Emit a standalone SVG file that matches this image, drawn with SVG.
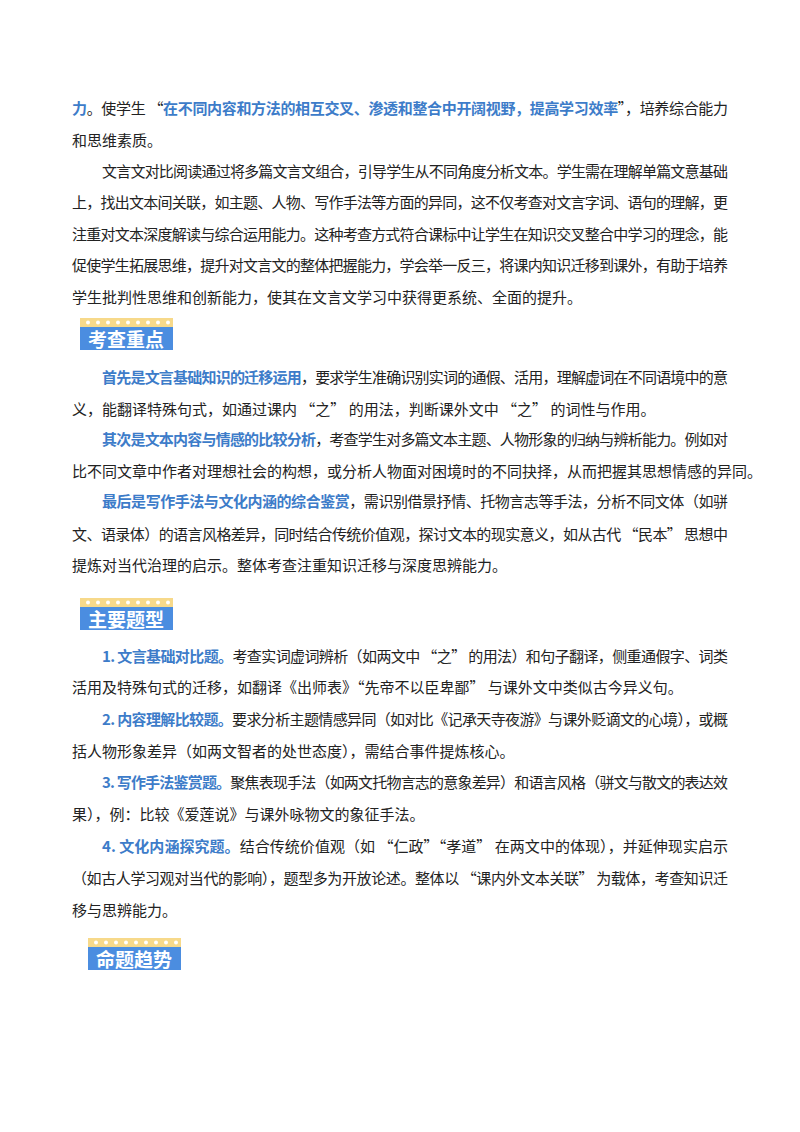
<svg xmlns="http://www.w3.org/2000/svg" width="800" height="1132" viewBox="0 0 800 1132">
<style>
text{font-family:"Noto Sans CJK SC",sans-serif;font-size:15px;fill:#222}
.b{fill:#3d7cc9;font-weight:bold}
.bt{fill:#fff;font-weight:bold;font-size:19px}
</style>
<defs>
<g id="badge">
<rect x="0" y="0" width="93" height="9" fill="#f7d98a"/>
<g fill="#fff"><circle cx="8" cy="4.5" r="2"/><circle cx="18" cy="4.5" r="2"/><circle cx="28" cy="4.5" r="2"/><circle cx="38" cy="4.5" r="2"/><circle cx="48" cy="4.5" r="2"/><circle cx="58" cy="4.5" r="2"/><circle cx="68" cy="4.5" r="2"/><circle cx="78" cy="4.5" r="2"/><circle cx="88" cy="4.5" r="2"/></g>
<rect x="0" y="9" width="93" height="23" fill="#4b8de0"/>
</g>
</defs>
<rect width="800" height="1132" fill="#fff"/>
<text x="72" y="114" textLength="656" lengthAdjust="spacing"><tspan class="b">力</tspan>。使学生 “<tspan class="b">在不同内容和方法的相互交叉、渗透和整合中开阔视野，提高学习效率</tspan>”，培养综合能力</text>
<text x="72" y="146">和思维素质。</text>
<text x="102" y="177" textLength="626" lengthAdjust="spacing">文言文对比阅读通过将多篇文言文组合，引导学生从不同角度分析文本。学生需在理解单篇文意基础</text>
<text x="72" y="208" textLength="656" lengthAdjust="spacing">上，找出文本间关联，如主题、人物、写作手法等方面的异同，这不仅考查对文言字词、语句的理解，更</text>
<text x="72" y="240" textLength="656" lengthAdjust="spacing">注重对文本深度解读与综合运用能力。这种考查方式符合课标中让学生在知识交叉整合中学习的理念，能</text>
<text x="72" y="271" textLength="656" lengthAdjust="spacing">促使学生拓展思维，提升对文言文的整体把握能力，学会举一反三，将课内知识迁移到课外，有助于培养</text>
<text x="72" y="303">学生批判性思维和创新能力，使其在文言文学习中获得更系统、全面的提升。</text>
<g id="badge1"><use href="#badge" x="80" y="318"/><text class="bt" x="126" y="347" text-anchor="middle">考查重点</text></g>
<text x="102" y="383" textLength="626" lengthAdjust="spacing"><tspan class="b">首先是文言基础知识的迁移运用</tspan>，要求学生准确识别实词的通假、活用，理解虚词在不同语境中的意</text>
<text x="72" y="415">义，能翻译特殊句式，如通过课内 “之” 的用法，判断课外文中 “之” 的词性与作用。</text>
<text x="102" y="445" textLength="626" lengthAdjust="spacing"><tspan class="b">其次是文本内容与情感的比较分析</tspan>，考查学生对多篇文本主题、人物形象的归纳与辨析能力。例如对</text>
<text x="72" y="477">比不同文章中作者对理想社会的构想，或分析人物面对困境时的不同抉择，从而把握其思想情感的异同。</text>
<text x="102" y="507" textLength="626" lengthAdjust="spacing"><tspan class="b">最后是写作手法与文化内涵的综合鉴赏</tspan>，需识别借景抒情、托物言志等手法，分析不同文体（如骈</text>
<text x="72" y="540" textLength="656" lengthAdjust="spacing">文、语录体）的语言风格差异，同时结合传统价值观，探讨文本的现实意义，如从古代 “民本” 思想中</text>
<text x="72" y="571">提炼对当代治理的启示。整体考查注重知识迁移与深度思辨能力。</text>
<g id="badge2"><use href="#badge" x="80" y="598"/><text class="bt" x="126" y="627" text-anchor="middle">主要题型</text></g>
<text x="102" y="662" textLength="626" lengthAdjust="spacing"><tspan class="b">1. 文言基础对比题。</tspan>考查实词虚词辨析（如两文中 “之” 的用法）和句子翻译，侧重通假字、词类</text>
<text x="72" y="693">活用及特殊句式的迁移，如翻译《出师表》“先帝不以臣卑鄙” 与课外文中类似古今异义句。</text>
<text x="102" y="725" textLength="626" lengthAdjust="spacing"><tspan class="b">2. 内容理解比较题。</tspan>要求分析主题情感异同（如对比《记承天寺夜游》与课外贬谪文的心境），或概</text>
<text x="72" y="757">括人物形象差异（如两文智者的处世态度），需结合事件提炼核心。</text>
<text x="102" y="788" textLength="626" lengthAdjust="spacing"><tspan class="b">3. 写作手法鉴赏题。</tspan>聚焦表现手法（如两文托物言志的意象差异）和语言风格（骈文与散文的表达效</text>
<text x="72" y="820">果），例：比较《爱莲说》与课外咏物文的象征手法。</text>
<text x="102" y="852" textLength="626" lengthAdjust="spacing"><tspan class="b">4. 文化内涵探究题。</tspan>结合传统价值观（如 “仁政”“孝道” 在两文中的体现），并延伸现实启示</text>
<text x="72" y="884" textLength="656" lengthAdjust="spacing">（如古人学习观对当代的影响），题型多为开放论述。整体以 “课内外文本关联” 为载体，考查知识迁</text>
<text x="72" y="916">移与思辨能力。</text>
<g id="badge3"><use href="#badge" x="88" y="938"/><text class="bt" x="134" y="967" text-anchor="middle">命题趋势</text></g>
</svg>
